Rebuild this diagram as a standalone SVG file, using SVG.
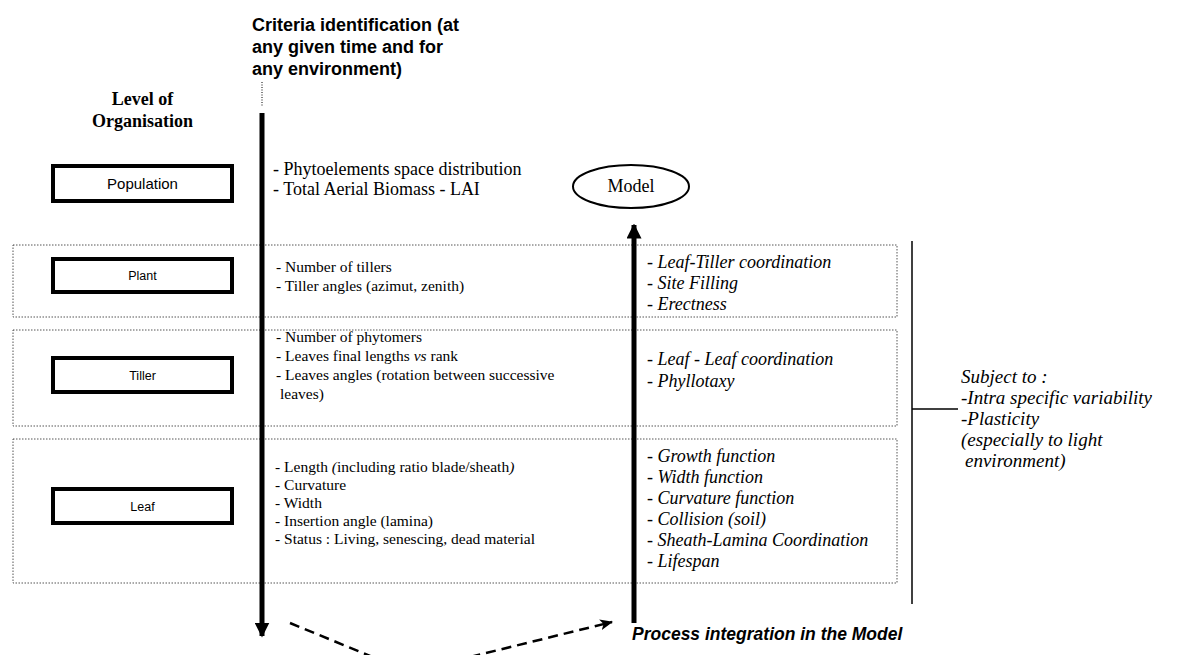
<svg xmlns="http://www.w3.org/2000/svg" width="1178" height="655" viewBox="0 0 1178 655">
<defs>
<style>
.sans{font-family:"Liberation Sans",Arial,sans-serif;fill:#000}
.serif{font-family:"Liberation Serif","Times New Roman",serif;fill:#000}
.it{font-style:italic}
.grp{fill:none;stroke:#555;stroke-width:1;stroke-dasharray:1.5 1.5}
.lvl{fill:#fff;stroke:#000;stroke-width:4}
.thick{stroke:#000;stroke-width:5;fill:none}
</style>
<marker id="tri" viewBox="0 0 10 10" refX="9" refY="5" markerWidth="15" markerHeight="15" markerUnits="userSpaceOnUse" orient="auto">
<path d="M0,0 L10,5 L0,10 z" fill="#000"/>
</marker>
<marker id="stealth" viewBox="0 0 12 10" refX="11" refY="5" markerWidth="13" markerHeight="11" markerUnits="userSpaceOnUse" orient="auto">
<path d="M0,0 L12,5 L0,10 L3,5 z" fill="#000"/>
</marker>
</defs>
<rect width="1178" height="655" fill="#fff"/>

<g id="group-plant"><rect class="grp" x="13" y="245" width="884" height="72"/></g>
<g id="group-tiller"><rect class="grp" x="13" y="330" width="884" height="96"/></g>
<g id="group-leaf"><rect class="grp" x="13" y="439" width="884" height="144"/></g>

<g id="header">
<text class="sans" font-weight="bold" font-size="18" x="252" y="31">Criteria identification (at</text>
<text class="sans" font-weight="bold" font-size="18" x="252" y="53">any given time and for</text>
<text class="sans" font-weight="bold" font-size="18" x="252" y="75">any environment)</text>
<text class="serif" font-weight="bold" font-size="18" x="142.5" y="105" text-anchor="middle">Level of</text>
<text class="serif" font-weight="bold" font-size="18" x="142.5" y="127" text-anchor="middle">Organisation</text>
</g>

<g id="population">
<rect class="lvl" x="53" y="166" width="179" height="35"/>
<text class="sans" font-size="15" x="142.5" y="189" text-anchor="middle">Population</text>
<text class="serif" font-size="18" x="273" y="175">- Phytoelements space distribution</text>
<text class="serif" font-size="18" x="273" y="195">- Total Aerial Biomass - LAI</text>
</g>

<g id="model">
<ellipse cx="631" cy="186.5" rx="58" ry="21.5" fill="#fff" stroke="#000" stroke-width="2"/>
<text class="serif" font-size="18" x="631" y="192" text-anchor="middle">Model</text>
</g>

<g id="plant">
<rect class="lvl" x="53" y="259" width="179" height="33"/>
<text class="sans" font-size="12.5" x="142.5" y="280" text-anchor="middle">Plant</text>
<text class="serif" font-size="15.5" x="276" y="272">- Number of tillers</text>
<text class="serif" font-size="15.5" x="276" y="291">- Tiller angles (azimut, zenith)</text>
<text class="serif it" font-size="18" x="647" y="268">- Leaf-Tiller coordination</text>
<text class="serif it" font-size="18" x="647" y="289">- Site Filling</text>
<text class="serif it" font-size="18" x="647" y="310">- Erectness</text>
</g>

<g id="tiller">
<rect class="lvl" x="53" y="358" width="179" height="34"/>
<text class="sans" font-size="12.5" x="142.5" y="380" text-anchor="middle">Tiller</text>
<text class="serif" font-size="15.5" x="276" y="342">- Number of phytomers</text>
<text class="serif" font-size="15.5" x="276" y="361">- Leaves final lengths <tspan class="it">vs</tspan> rank</text>
<text class="serif" font-size="15.5" x="276" y="380">- Leaves angles (rotation between successive</text>
<text class="serif" font-size="15.5" x="280" y="399">leaves)</text>
<text class="serif it" font-size="18" x="647" y="365">- Leaf - Leaf coordination</text>
<text class="serif it" font-size="18" x="647" y="387">- Phyllotaxy</text>
</g>

<g id="leaf">
<rect class="lvl" x="53" y="489" width="179" height="34"/>
<text class="sans" font-size="12.5" x="142.5" y="511" text-anchor="middle">Leaf</text>
<text class="serif" font-size="15.5" x="275" y="472">- Length <tspan class="it">(</tspan>including ratio blade/sheath<tspan class="it">)</tspan></text>
<text class="serif" font-size="15.5" x="275" y="490">- Curvature</text>
<text class="serif" font-size="15.5" x="275" y="508">- Width</text>
<text class="serif" font-size="15.5" x="275" y="526">- Insertion angle (lamina)</text>
<text class="serif" font-size="15.5" x="275" y="544">- Status : Living, senescing, dead material</text>
<text class="serif it" font-size="18" x="647" y="462">- Growth function</text>
<text class="serif it" font-size="18" x="647" y="483">- Width function</text>
<text class="serif it" font-size="18" x="647" y="504">- Curvature function</text>
<text class="serif it" font-size="18" x="647" y="525">- Collision (soil)</text>
<text class="serif it" font-size="18" x="647" y="546">- Sheath-Lamina Coordination</text>
<text class="serif it" font-size="18" x="647" y="567">- Lifespan</text>
</g>

<g id="subject">
<text class="serif it" font-size="19" x="961" y="383">Subject to :</text>
<text class="serif it" font-size="19" x="961" y="404">-Intra specific variability</text>
<text class="serif it" font-size="19" x="961" y="425">-Plasticity</text>
<text class="serif it" font-size="19" x="961" y="446">(especially to light</text>
<text class="serif it" font-size="19" x="965" y="467">environment)</text>
</g>

<g id="process">
<text class="sans" font-weight="bold" font-style="italic" font-size="17.5" x="632" y="640">Process integration in the Model</text>
</g>

<g id="connectors">
<line x1="262" y1="82" x2="262" y2="107" stroke="#000" stroke-width="1" stroke-dasharray="1 1.5"/>
<line class="thick" x1="262" y1="113" x2="262" y2="636" marker-end="url(#tri)"/>
<line class="thick" x1="634" y1="623" x2="634" y2="225" marker-end="url(#tri)"/>
<path d="M290,623 L409,672 L612,622" fill="none" stroke="#000" stroke-width="2.5" stroke-dasharray="10 6" marker-end="url(#stealth)"/>
<line x1="912" y1="241" x2="912" y2="604" stroke="#000" stroke-width="1.5"/>
<line x1="912" y1="409" x2="958" y2="409" stroke="#000" stroke-width="1.5"/>
</g>
</svg>
